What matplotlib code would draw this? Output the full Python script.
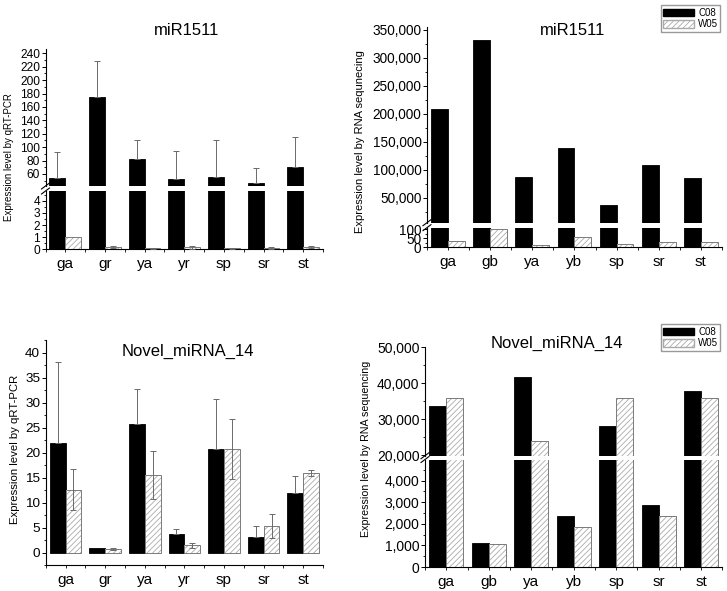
import numpy as np
import matplotlib
matplotlib.use('Agg')
import matplotlib.pyplot as plt
from matplotlib.ticker import MultipleLocator, FuncFormatter, FixedLocator
from matplotlib.patches import Patch

plt.rcParams['font.family'] = ['Liberation Sans', 'DejaVu Sans']
plt.rcParams['hatch.linewidth'] = 0.6

# tissues
tissues_qpcr = ['ga', 'gr', 'ya', 'yr', 'sp', 'sr', 'st']
tissues_seq = ['ga', 'gb', 'ya', 'yb', 'sp', 'sr', 'st']

# miR1511, qRT-PCR
mir_qpcr_c08 = [54.5, 175, 82, 53, 56, 47, 70.5]
mir_qpcr_c08_err = [38.5, 54, 29, 41, 54.5, 21.5, 44.5]
mir_qpcr_w05 = [1.0, 0.15, 0.1, 0.15, 0.07, 0.1, 0.15]
mir_qpcr_w05_err = [0, 0.08, 0.04, 0.12, 0.03, 0.08, 0.08]

# miR1511, RNA-seq
mir_seq_c08 = [209600, 332300, 86600, 138900, 38200, 108300, 84800]
mir_seq_w05 = [37, 100, 11, 59, 17, 28, 28]

# Novel_miRNA_14, qRT-PCR
nov_qpcr_c08 = [22.0, 1.05, 25.7, 3.7, 20.8, 3.1, 12.0]
nov_qpcr_c08_err = [16.1, 0, 7.0, 1.0, 9.9, 2.2, 3.4]
nov_qpcr_w05 = [12.6, 0.74, 15.6, 1.55, 20.8, 5.3, 15.9]
nov_qpcr_w05_err = [4.1, 0.12, 4.8, 0.5, 6.0, 2.4, 0.6]

# Novel_miRNA_14, RNA-seq
nov_seq_c08 = [33700, 1100, 41600, 2360, 28000, 2870, 37700]
nov_seq_w05 = [35800, 1050, 23900, 1840, 35800, 2380, 35800]

W = 0.4
ERR_COLOR = '#6a6a6a'
HATCH_COLOR = '#aaaaaa'
EDGE_COLOR = '#7a7a7a'
HATCH = '//////'

comma = FuncFormatter(lambda v, p: '{:,.0f}'.format(v))


def draw_bars(ax, c08, w05, c_err=None, w_err=None):
    x = np.arange(len(c08))
    ax.bar(x - W / 2, c08, W, color='black', edgecolor='black', linewidth=0.6, zorder=2)
    # hatch in light gray, outline in darker gray
    ax.bar(x + W / 2, w05, W, color='white', edgecolor=HATCH_COLOR, hatch=HATCH,
           linewidth=0, zorder=2)
    ax.bar(x + W / 2, w05, W, fill=False, edgecolor=EDGE_COLOR, linewidth=0.7, zorder=2.1)
    if c_err is not None:
        c_err = np.array(c_err)
        m = c_err > 0
        ax.errorbar((x - W / 2)[m], np.array(c08)[m], yerr=[np.zeros(m.sum()), c_err[m]],
                    fmt='none', ecolor=ERR_COLOR, elinewidth=0.7, capsize=2, capthick=0.7, zorder=3)
    if w_err is not None:
        w_err = np.array(w_err)
        m = w_err > 0
        ax.errorbar((x + W / 2)[m], np.array(w05)[m], yerr=w_err[m],
                    fmt='none', ecolor=ERR_COLOR, elinewidth=0.7, capsize=2, capthick=0.7, zorder=3)


def style(ax, ysize):
    for s in ['top', 'right']:
        ax.spines[s].set_visible(False)
    ax.spines['left'].set_linewidth(0.8)
    ax.spines['bottom'].set_linewidth(0.8)
    ax.tick_params(axis='y', which='major', direction='out', length=3, width=0.7, labelsize=ysize, pad=1)
    ax.tick_params(axis='y', which='minor', direction='out', length=1.8, width=0.6)
    ax.set_xlim(-0.5, 6.5)


def xaxis(ax, labels):
    ax.xaxis.set_major_locator(FixedLocator(np.arange(7)))
    ax.set_xticklabels(labels)
    ax.xaxis.set_minor_locator(FixedLocator(np.arange(-0.5, 7, 1)))
    ax.tick_params(axis='x', which='major', direction='out', length=2.5, width=0.6, labelsize=11, pad=3)
    ax.tick_params(axis='x', which='minor', direction='out', length=2.5, width=0.6)


def hide_x(ax):
    ax.spines['bottom'].set_visible(False)
    ax.tick_params(axis='x', which='both', bottom=False, labelbottom=False)


def break_marks(fig, ax_top, ax_bot):
    # small slashes on the y axis at the break
    x0 = ax_top.get_position().x0
    yt = ax_top.get_position().y0
    yb = ax_bot.get_position().y1
    dx = 4 / 727
    dy = 3 / 591
    for y in (yt, yb):
        fig.add_artist(plt.Line2D([x0 - dx, x0 + dx], [y - dy, y + dy], color='black', lw=0.8))


fig = plt.figure(figsize=(7.27, 5.91), dpi=100)

# ---- top left: miR1511 qRT-PCR (broken axis) ----
ax1u = fig.add_axes([0.0626, 0.6853, 0.3817, 0.2313])
ax1l = fig.add_axes([0.0626, 0.5782, 0.3817, 0.0986])
for a in (ax1u, ax1l):
    draw_bars(a, mir_qpcr_c08, mir_qpcr_w05, mir_qpcr_c08_err, mir_qpcr_w05_err)
    style(a, 8.6)
ax1u.set_ylim(42, 246)
ax1u.yaxis.set_major_locator(FixedLocator(np.arange(60, 241, 20)))
ax1u.yaxis.set_minor_locator(MultipleLocator(10))
hide_x(ax1u)
ax1l.set_ylim(0, 4.8)
ax1l.yaxis.set_major_locator(FixedLocator(np.arange(0, 5, 1)))
ax1l.yaxis.set_minor_locator(MultipleLocator(0.5))
xaxis(ax1l, tissues_qpcr)
break_marks(fig, ax1u, ax1l)
fig.text(0.013, 0.735, 'Expression level by qRT-PCR', rotation=90, ha='center', va='center', fontsize=7)
fig.text(0.257, 0.949, 'miR1511', ha='center', va='center', fontsize=12)

# ---- top right: miR1511 RNA sequencing (broken axis) ----
ax2u = fig.add_axes([0.5873, 0.6232, 0.4057, 0.3316])
ax2l = fig.add_axes([0.5873, 0.5816, 0.4057, 0.0332])
for a in (ax2u, ax2l):
    draw_bars(a, mir_seq_c08, mir_seq_w05)
    style(a, 9.8)
ax2u.set_ylim(5800, 355800)
ax2u.yaxis.set_major_locator(FixedLocator(np.arange(50000, 350001, 50000)))
ax2u.yaxis.set_minor_locator(MultipleLocator(25000))
ax2u.yaxis.set_major_formatter(comma)
hide_x(ax2u)
ax2l.set_ylim(0, 110)
ax2l.yaxis.set_major_locator(FixedLocator([0, 50, 100]))
ax2l.yaxis.set_minor_locator(MultipleLocator(25))
xaxis(ax2l, tissues_seq)
break_marks(fig, ax2u, ax2l)
fig.text(0.495, 0.76, 'Expression level by RNA sequnecing', rotation=90, ha='center', va='center', fontsize=8)
fig.text(0.788, 0.949, 'miR1511', ha='center', va='center', fontsize=12)

# ---- bottom left: Novel_miRNA_14 qRT-PCR ----
ax3 = fig.add_axes([0.0629, 0.0435, 0.3814, 0.381])
draw_bars(ax3, nov_qpcr_c08, nov_qpcr_w05, nov_qpcr_c08_err, nov_qpcr_w05_err)
style(ax3, 9.7)
ax3.set_ylim(-2.5, 42.5)
ax3.yaxis.set_major_locator(FixedLocator(np.arange(0, 41, 5)))
ax3.yaxis.set_minor_locator(MultipleLocator(2.5))
xaxis(ax3, tissues_qpcr)
fig.text(0.021, 0.24, 'Expression level by qRT-PCR', rotation=90, ha='center', va='center', fontsize=8.2)
fig.text(0.259, 0.405, 'Novel_miRNA_14', ha='center', va='center', fontsize=12)

# ---- bottom right: Novel_miRNA_14 RNA sequencing (broken axis) ----
ax4u = fig.add_axes([0.5846, 0.2289, 0.4092, 0.1834])
ax4l = fig.add_axes([0.5846, 0.0406, 0.4092, 0.1819])
for a in (ax4u, ax4l):
    draw_bars(a, nov_seq_c08, nov_seq_w05)
    style(a, 10)
    a.yaxis.set_major_formatter(comma)
ax4u.set_ylim(19800, 50000)
ax4u.yaxis.set_major_locator(FixedLocator(np.arange(20000, 50001, 10000)))
ax4u.yaxis.set_minor_locator(MultipleLocator(5000))
hide_x(ax4u)
ax4l.set_ylim(0, 4980)
ax4l.yaxis.set_major_locator(FixedLocator(np.arange(0, 4001, 1000)))
ax4l.yaxis.set_minor_locator(MultipleLocator(500))
xaxis(ax4l, tissues_seq)
break_marks(fig, ax4u, ax4l)
fig.text(0.503, 0.24, 'Expression level by RNA sequencing', rotation=90, ha='center', va='center', fontsize=7.7)
fig.text(0.766, 0.419, 'Novel_miRNA_14', ha='center', va='center', fontsize=12)

# legends
handles = [Patch(facecolor='black', edgecolor='black', label='C08'),
           Patch(facecolor='white', edgecolor=HATCH_COLOR, hatch=HATCH, label='W05')]
for yy in (0.991, 0.451):
    fig.legend(handles=handles, loc='upper right', bbox_to_anchor=(0.991, yy), fontsize=7,
               frameon=True, fancybox=False, edgecolor='#999999', framealpha=1,
               handlelength=3.2, handleheight=0.8, handletextpad=0.4, borderpad=0.25,
               labelspacing=0.15, borderaxespad=0)

fig.savefig('out.png', dpi=100)
